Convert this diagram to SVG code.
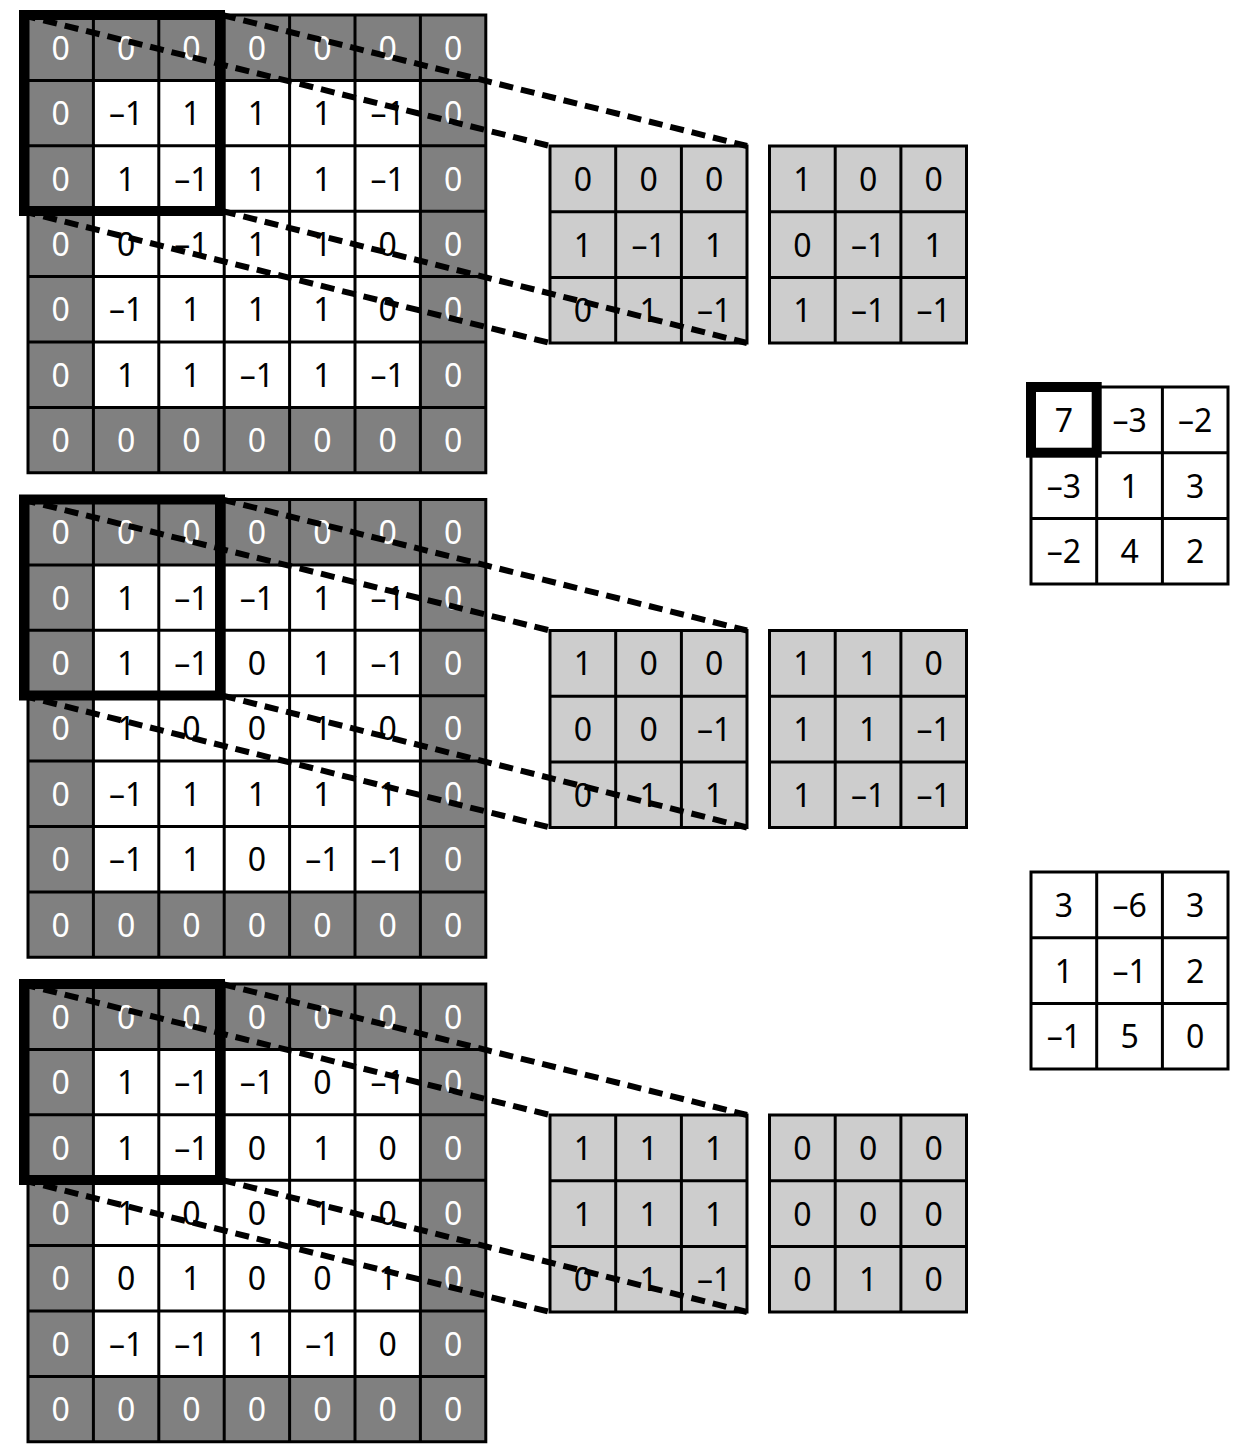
<svg xmlns="http://www.w3.org/2000/svg" width="1243" height="1453" viewBox="0 0 1243 1453">
<style>
text{font-family:"Noto Sans","Open Sans","Liberation Sans",sans-serif;font-size:32px;text-anchor:middle}
.w{fill:#fff}
.b{fill:#000}
.pad{fill:#808080}
.inner{fill:#fff}
.kf{fill:#cdcdcd}
.of{fill:#fff}
.gl{fill:none;stroke:#000;stroke-width:3}
.win{fill:none;stroke:#000;stroke-width:10}
.dash{fill:none;stroke:#000;stroke-width:6;stroke-dasharray:14 8}
</style>
<defs>
<path id="g7" class="gl" d="M0 0H457.8V457.8H0ZM65.4 0V457.8M130.8 0V457.8M196.2 0V457.8M261.6 0V457.8M327 0V457.8M392.4 0V457.8M0 65.4H457.8M0 130.8H457.8M0 196.2H457.8M0 261.6H457.8M0 327H457.8M0 392.4H457.8"/>
<path id="g3" class="gl" d="M0 0H197V197H0ZM65.7 0V197M131.4 0V197M0 65.7H197M0 131.4H197"/>
</defs>

<!-- Input channel 1 -->
<g id="input1" transform="translate(28,15)">
<rect class="pad" width="457.8" height="457.8"/>
<rect class="inner" x="65.4" y="65.4" width="327" height="327"/>
<use href="#g7"/>
<text class="w" x="32.7" y="44.7">0</text><text class="w" x="98.1" y="44.7">0</text><text class="w" x="163.5" y="44.7">0</text><text class="w" x="228.9" y="44.7">0</text><text class="w" x="294.3" y="44.7">0</text><text class="w" x="359.7" y="44.7">0</text><text class="w" x="425.1" y="44.7">0</text>
<text class="w" x="32.7" y="110.1">0</text><text class="b" x="98.1" y="110.1">–1</text><text class="b" x="163.5" y="110.1">1</text><text class="b" x="228.9" y="110.1">1</text><text class="b" x="294.3" y="110.1">1</text><text class="b" x="359.7" y="110.1">–1</text><text class="w" x="425.1" y="110.1">0</text>
<text class="w" x="32.7" y="175.5">0</text><text class="b" x="98.1" y="175.5">1</text><text class="b" x="163.5" y="175.5">–1</text><text class="b" x="228.9" y="175.5">1</text><text class="b" x="294.3" y="175.5">1</text><text class="b" x="359.7" y="175.5">–1</text><text class="w" x="425.1" y="175.5">0</text>
<text class="w" x="32.7" y="240.9">0</text><text class="b" x="98.1" y="240.9">0</text><text class="b" x="163.5" y="240.9">–1</text><text class="b" x="228.9" y="240.9">1</text><text class="b" x="294.3" y="240.9">1</text><text class="b" x="359.7" y="240.9">0</text><text class="w" x="425.1" y="240.9">0</text>
<text class="w" x="32.7" y="306.3">0</text><text class="b" x="98.1" y="306.3">–1</text><text class="b" x="163.5" y="306.3">1</text><text class="b" x="228.9" y="306.3">1</text><text class="b" x="294.3" y="306.3">1</text><text class="b" x="359.7" y="306.3">0</text><text class="w" x="425.1" y="306.3">0</text>
<text class="w" x="32.7" y="371.7">0</text><text class="b" x="98.1" y="371.7">1</text><text class="b" x="163.5" y="371.7">1</text><text class="b" x="228.9" y="371.7">–1</text><text class="b" x="294.3" y="371.7">1</text><text class="b" x="359.7" y="371.7">–1</text><text class="w" x="425.1" y="371.7">0</text>
<text class="w" x="32.7" y="437.1">0</text><text class="w" x="98.1" y="437.1">0</text><text class="w" x="163.5" y="437.1">0</text><text class="w" x="228.9" y="437.1">0</text><text class="w" x="294.3" y="437.1">0</text><text class="w" x="359.7" y="437.1">0</text><text class="w" x="425.1" y="437.1">0</text>
<rect class="win" x="-4" y="0" width="196" height="196"/>
</g>

<!-- Input channel 2 -->
<g id="input2" transform="translate(28,499.5)">
<rect class="pad" width="457.8" height="457.8"/>
<rect class="inner" x="65.4" y="65.4" width="327" height="327"/>
<use href="#g7"/>
<text class="w" x="32.7" y="44.7">0</text><text class="w" x="98.1" y="44.7">0</text><text class="w" x="163.5" y="44.7">0</text><text class="w" x="228.9" y="44.7">0</text><text class="w" x="294.3" y="44.7">0</text><text class="w" x="359.7" y="44.7">0</text><text class="w" x="425.1" y="44.7">0</text>
<text class="w" x="32.7" y="110.1">0</text><text class="b" x="98.1" y="110.1">1</text><text class="b" x="163.5" y="110.1">–1</text><text class="b" x="228.9" y="110.1">–1</text><text class="b" x="294.3" y="110.1">1</text><text class="b" x="359.7" y="110.1">–1</text><text class="w" x="425.1" y="110.1">0</text>
<text class="w" x="32.7" y="175.5">0</text><text class="b" x="98.1" y="175.5">1</text><text class="b" x="163.5" y="175.5">–1</text><text class="b" x="228.9" y="175.5">0</text><text class="b" x="294.3" y="175.5">1</text><text class="b" x="359.7" y="175.5">–1</text><text class="w" x="425.1" y="175.5">0</text>
<text class="w" x="32.7" y="240.9">0</text><text class="b" x="98.1" y="240.9">1</text><text class="b" x="163.5" y="240.9">0</text><text class="b" x="228.9" y="240.9">0</text><text class="b" x="294.3" y="240.9">1</text><text class="b" x="359.7" y="240.9">0</text><text class="w" x="425.1" y="240.9">0</text>
<text class="w" x="32.7" y="306.3">0</text><text class="b" x="98.1" y="306.3">–1</text><text class="b" x="163.5" y="306.3">1</text><text class="b" x="228.9" y="306.3">1</text><text class="b" x="294.3" y="306.3">1</text><text class="b" x="359.7" y="306.3">1</text><text class="w" x="425.1" y="306.3">0</text>
<text class="w" x="32.7" y="371.7">0</text><text class="b" x="98.1" y="371.7">–1</text><text class="b" x="163.5" y="371.7">1</text><text class="b" x="228.9" y="371.7">0</text><text class="b" x="294.3" y="371.7">–1</text><text class="b" x="359.7" y="371.7">–1</text><text class="w" x="425.1" y="371.7">0</text>
<text class="w" x="32.7" y="437.1">0</text><text class="w" x="98.1" y="437.1">0</text><text class="w" x="163.5" y="437.1">0</text><text class="w" x="228.9" y="437.1">0</text><text class="w" x="294.3" y="437.1">0</text><text class="w" x="359.7" y="437.1">0</text><text class="w" x="425.1" y="437.1">0</text>
<rect class="win" x="-4" y="0" width="196" height="196"/>
</g>

<!-- Input channel 3 -->
<g id="input3" transform="translate(28,984)">
<rect class="pad" width="457.8" height="457.8"/>
<rect class="inner" x="65.4" y="65.4" width="327" height="327"/>
<use href="#g7"/>
<text class="w" x="32.7" y="44.7">0</text><text class="w" x="98.1" y="44.7">0</text><text class="w" x="163.5" y="44.7">0</text><text class="w" x="228.9" y="44.7">0</text><text class="w" x="294.3" y="44.7">0</text><text class="w" x="359.7" y="44.7">0</text><text class="w" x="425.1" y="44.7">0</text>
<text class="w" x="32.7" y="110.1">0</text><text class="b" x="98.1" y="110.1">1</text><text class="b" x="163.5" y="110.1">–1</text><text class="b" x="228.9" y="110.1">–1</text><text class="b" x="294.3" y="110.1">0</text><text class="b" x="359.7" y="110.1">–1</text><text class="w" x="425.1" y="110.1">0</text>
<text class="w" x="32.7" y="175.5">0</text><text class="b" x="98.1" y="175.5">1</text><text class="b" x="163.5" y="175.5">–1</text><text class="b" x="228.9" y="175.5">0</text><text class="b" x="294.3" y="175.5">1</text><text class="b" x="359.7" y="175.5">0</text><text class="w" x="425.1" y="175.5">0</text>
<text class="w" x="32.7" y="240.9">0</text><text class="b" x="98.1" y="240.9">1</text><text class="b" x="163.5" y="240.9">0</text><text class="b" x="228.9" y="240.9">0</text><text class="b" x="294.3" y="240.9">1</text><text class="b" x="359.7" y="240.9">0</text><text class="w" x="425.1" y="240.9">0</text>
<text class="w" x="32.7" y="306.3">0</text><text class="b" x="98.1" y="306.3">0</text><text class="b" x="163.5" y="306.3">1</text><text class="b" x="228.9" y="306.3">0</text><text class="b" x="294.3" y="306.3">0</text><text class="b" x="359.7" y="306.3">1</text><text class="w" x="425.1" y="306.3">0</text>
<text class="w" x="32.7" y="371.7">0</text><text class="b" x="98.1" y="371.7">–1</text><text class="b" x="163.5" y="371.7">–1</text><text class="b" x="228.9" y="371.7">1</text><text class="b" x="294.3" y="371.7">–1</text><text class="b" x="359.7" y="371.7">0</text><text class="w" x="425.1" y="371.7">0</text>
<text class="w" x="32.7" y="437.1">0</text><text class="w" x="98.1" y="437.1">0</text><text class="w" x="163.5" y="437.1">0</text><text class="w" x="228.9" y="437.1">0</text><text class="w" x="294.3" y="437.1">0</text><text class="w" x="359.7" y="437.1">0</text><text class="w" x="425.1" y="437.1">0</text>
<rect class="win" x="-4" y="0" width="196" height="196"/>
</g>

<!-- Kernels -->
<g id="kernel1a" transform="translate(550,146)">
<rect class="kf" width="197" height="197"/><use href="#g3"/>
<text class="b" x="32.85" y="44.85">0</text><text class="b" x="98.55" y="44.85">0</text><text class="b" x="164.25" y="44.85">0</text>
<text class="b" x="32.85" y="110.55">1</text><text class="b" x="98.55" y="110.55">–1</text><text class="b" x="164.25" y="110.55">1</text>
<text class="b" x="32.85" y="176.25">0</text><text class="b" x="98.55" y="176.25">1</text><text class="b" x="164.25" y="176.25">–1</text>
</g>
<g id="kernel1b" transform="translate(769.5,146)">
<rect class="kf" width="197" height="197"/><use href="#g3"/>
<text class="b" x="32.85" y="44.85">1</text><text class="b" x="98.55" y="44.85">0</text><text class="b" x="164.25" y="44.85">0</text>
<text class="b" x="32.85" y="110.55">0</text><text class="b" x="98.55" y="110.55">–1</text><text class="b" x="164.25" y="110.55">1</text>
<text class="b" x="32.85" y="176.25">1</text><text class="b" x="98.55" y="176.25">–1</text><text class="b" x="164.25" y="176.25">–1</text>
</g>
<g id="kernel2a" transform="translate(550,630.5)">
<rect class="kf" width="197" height="197"/><use href="#g3"/>
<text class="b" x="32.85" y="44.85">1</text><text class="b" x="98.55" y="44.85">0</text><text class="b" x="164.25" y="44.85">0</text>
<text class="b" x="32.85" y="110.55">0</text><text class="b" x="98.55" y="110.55">0</text><text class="b" x="164.25" y="110.55">–1</text>
<text class="b" x="32.85" y="176.25">0</text><text class="b" x="98.55" y="176.25">1</text><text class="b" x="164.25" y="176.25">1</text>
</g>
<g id="kernel2b" transform="translate(769.5,630.5)">
<rect class="kf" width="197" height="197"/><use href="#g3"/>
<text class="b" x="32.85" y="44.85">1</text><text class="b" x="98.55" y="44.85">1</text><text class="b" x="164.25" y="44.85">0</text>
<text class="b" x="32.85" y="110.55">1</text><text class="b" x="98.55" y="110.55">1</text><text class="b" x="164.25" y="110.55">–1</text>
<text class="b" x="32.85" y="176.25">1</text><text class="b" x="98.55" y="176.25">–1</text><text class="b" x="164.25" y="176.25">–1</text>
</g>
<g id="kernel3a" transform="translate(550,1115)">
<rect class="kf" width="197" height="197"/><use href="#g3"/>
<text class="b" x="32.85" y="44.85">1</text><text class="b" x="98.55" y="44.85">1</text><text class="b" x="164.25" y="44.85">1</text>
<text class="b" x="32.85" y="110.55">1</text><text class="b" x="98.55" y="110.55">1</text><text class="b" x="164.25" y="110.55">1</text>
<text class="b" x="32.85" y="176.25">0</text><text class="b" x="98.55" y="176.25">1</text><text class="b" x="164.25" y="176.25">–1</text>
</g>
<g id="kernel3b" transform="translate(769.5,1115)">
<rect class="kf" width="197" height="197"/><use href="#g3"/>
<text class="b" x="32.85" y="44.85">0</text><text class="b" x="98.55" y="44.85">0</text><text class="b" x="164.25" y="44.85">0</text>
<text class="b" x="32.85" y="110.55">0</text><text class="b" x="98.55" y="110.55">0</text><text class="b" x="164.25" y="110.55">0</text>
<text class="b" x="32.85" y="176.25">0</text><text class="b" x="98.55" y="176.25">1</text><text class="b" x="164.25" y="176.25">0</text>
</g>

<!-- Outputs -->
<g id="output1" transform="translate(1031,387)">
<rect class="of" width="197" height="197"/><use href="#g3"/>
<text class="b" x="32.85" y="44.85">7</text><text class="b" x="98.55" y="44.85">–3</text><text class="b" x="164.25" y="44.85">–2</text>
<text class="b" x="32.85" y="110.55">–3</text><text class="b" x="98.55" y="110.55">1</text><text class="b" x="164.25" y="110.55">3</text>
<text class="b" x="32.85" y="176.25">–2</text><text class="b" x="98.55" y="176.25">4</text><text class="b" x="164.25" y="176.25">2</text>
<rect class="win" x="0" y="0" width="65.7" height="65.7"/>
</g>
<g id="output2" transform="translate(1031,872)">
<rect class="of" width="197" height="197"/><use href="#g3"/>
<text class="b" x="32.85" y="44.85">3</text><text class="b" x="98.55" y="44.85">–6</text><text class="b" x="164.25" y="44.85">3</text>
<text class="b" x="32.85" y="110.55">1</text><text class="b" x="98.55" y="110.55">–1</text><text class="b" x="164.25" y="110.55">2</text>
<text class="b" x="32.85" y="176.25">–1</text><text class="b" x="98.55" y="176.25">5</text><text class="b" x="164.25" y="176.25">0</text>
</g>

<!-- Connectors -->
<g id="connectors" class="dash">
<path d="M22 15L550 146M222 15L747 146M22 211L550 343M222 211L747 343"/>
<path d="M22 499.5L550 630.5M222 499.5L747 630.5M22 695.5L550 827.5M222 695.5L747 827.5"/>
<path d="M22 984L550 1115M222 984L747 1115M22 1180L550 1312M222 1180L747 1312"/>
</g>
</svg>
